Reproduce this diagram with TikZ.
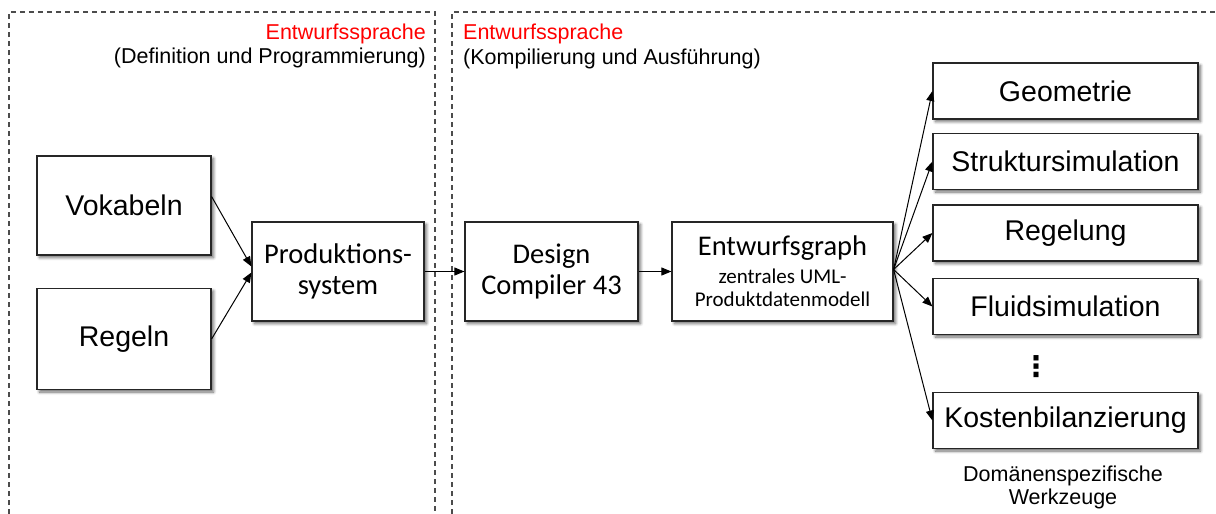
\documentclass[tikz,border=0pt]{standalone}
\usepackage{fontspec}
\setmainfont{Liberation Sans}
\newfontfamily\calibri{Carlito}
\newfontfamily\dejavu{DejaVu Sans}
\usetikzlibrary{arrows.meta,shadows.blur}
\newcommand\gross{\fontsize{28.5}{31}\selectfont}
\newcommand\klein{\fontsize{21.5}{23}\selectfont}

\begin{document}
\begin{tikzpicture}[x=1pt,y=-1pt,
	box/.style={draw=black!85,line width=1.2pt,fill=white,inner sep=0pt,align=center,
		blur shadow={shadow xshift=2.5pt,shadow yshift=-2.5pt,shadow blur radius=3pt,shadow opacity=60,shadow blur steps=6}},
	tool/.style={box,minimum width=265pt,minimum height=56pt,font=\gross},
	pfeil/.style={line width=1pt,-{Triangle[length=10pt,width=8pt]}},
	rahmen/.style={color=black!70,line width=1.2pt,dash pattern=on 5pt off 4pt}]
	\useasboundingbox (0,0) rectangle (1216,514);
	\draw[rahmen] (9,514) -- (9,12) -- (435,12) -- (435,514);
	\draw[rahmen] (452,514) -- (452,12) -- (1216,12);
	\node[anchor=base east,inner sep=0pt,text=red,font=\klein] (kopfa) at (426,39) {Entwurfssprache};
	\node[anchor=base east,inner sep=0pt,font=\klein] (kopfb) at (426,63) {(Definition und Programmierung)};
	\node[anchor=base west,inner sep=0pt,text=red,font=\klein] (kopfc) at (463,39) {Entwurfssprache};
	\node[anchor=base west,inner sep=0pt,font=\klein] (kopfd) at (463,64) {(Kompilierung und Ausführung)};
	\node[box,minimum width=174pt,minimum height=99pt,font=\gross] (vokabeln) at (124,205.5) {Vokabeln};
	\node[box,minimum width=174pt,minimum height=101pt,font=\gross] (regeln) at (124,339) {Regeln};
	\node[box,minimum width=172pt,minimum height=99pt,font=\calibri\gross] (prod) at (338,271.5) {Produktions-\\system};
	\node[box,minimum width=173pt,minimum height=99pt,font=\calibri\gross] (design) at (551.5,271.5) {Design\\Compiler 43};
	\node[box,minimum width=221pt,minimum height=99pt,font=\calibri\gross] (graph) at (782.5,271.5)
		{Entwurfsgraph\\[-3pt]\fontsize{21}{23}\selectfont zentrales UML-\\[-8pt]\fontsize{21}{23}\selectfont Produktdatenmodell};
	\node[tool] (geometrie) at (1065.5,91) {Geometrie};
	\node[tool] (struktur) at (1065.5,161.5) {Struktursimulation};
	\node[tool] (regelung) at (1065.5,233) {Regelung};
	\node[tool] (fluid) at (1065.5,306.5) {Fluidsimulation};
	\node[tool] (kosten) at (1065.5,420.5) {Kostenbilanzierung};
	\node[font=\dejavu\bfseries\gross] (punkte) at (1036,367) {⋮};
	\node[anchor=north,align=center,font=\klein] (werkzeuge) at (1063,462) {Domänenspezifische\\Werkzeuge};
	\draw[pfeil] ([yshift=9pt]vokabeln.east) -- ([yshift=5pt]prod.west);
	\draw[pfeil] (regeln.east) -- ([yshift=-1pt]prod.west);
	\draw[pfeil] (prod.east) -- (design.west);
	\draw[pfeil] (design.east) -- (graph.west);
	\foreach \t in {geometrie,struktur,regelung,fluid,kosten}
		\draw[pfeil] ([yshift=2pt]graph.east) -- (\t.west);
\end{tikzpicture}
\end{document}
